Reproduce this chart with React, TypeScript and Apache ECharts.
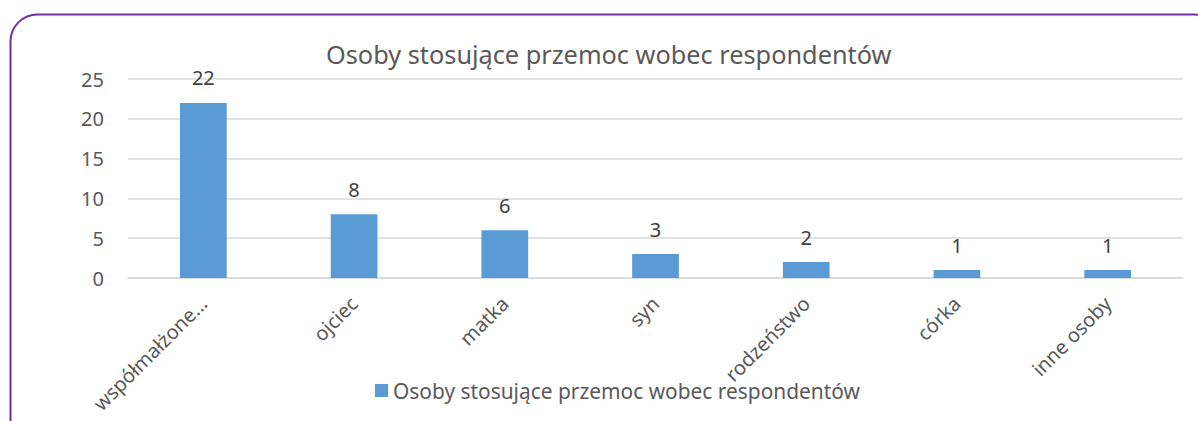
import React, { useEffect, useRef } from "react";
import * as echarts from "echarts";

const categories = ["współmałżone…", "ojciec", "matka", "syn", "rodzeństwo", "córka", "inne osoby"];
const values = [22, 8, 6, 3, 2, 1, 1];
const seriesName = "Osoby stosujące przemoc wobec respondentów";
const titleText = "Osoby stosujące przemoc wobec respondentów";

const FONT = "'Noto Sans', 'Open Sans', sans-serif";

export default function App() {
  const ref = useRef<HTMLDivElement>(null);
  useEffect(() => {
    if (!ref.current) return;
    const chart = echarts.init(ref.current, undefined, { renderer: "svg" });
    chart.setOption({
      animation: false,
      backgroundColor: "#ffffff",
      title: {
        text: titleText,
        left: 321,
        top: 36,
        textStyle: { fontFamily: FONT, fontSize: 25.3, fontWeight: "normal", color: "#595959" },
      },
      legend: {
        bottom: 15,
        left: 370,
        itemWidth: 13,
        itemHeight: 13,
        icon: "rect",
        itemGap: 6,
        textStyle: { fontFamily: FONT, fontSize: 20.9, color: "#595959" },
        data: [seriesName],
      },
      grid: { left: 128, right: 15, top: 79, bottom: 143, containLabel: false },
      xAxis: {
        type: "category",
        data: categories,
        axisLine: { lineStyle: { color: "#d9d9d9", width: 1.5 } },
        axisTick: { show: false },
        axisLabel: {
          rotate: 45,
          interval: 0,
          margin: 22,
          fontFamily: FONT,
          fontSize: 20,
          color: "#595959",
        },
      },
      yAxis: {
        type: "value",
        min: 0,
        max: 25,
        interval: 5,
        axisLine: { show: false },
        axisTick: { show: false },
        splitLine: { lineStyle: { color: "#d9d9d9", width: 1.5 } },
        axisLabel: { fontFamily: FONT, fontSize: 20, color: "#595959", margin: 24 },
      },
      series: [
        {
          name: seriesName,
          type: "bar",
          data: values,
          barWidth: "31%",
          itemStyle: { color: "#5b9bd5" },
          label: {
            show: true,
            position: "top",
            distance: 15,
            fontFamily: FONT,
            fontSize: 20,
            color: "#404040",
          },
        },
      ],
      graphic: [
        {
          type: "rect",
          shape: { x: 10.5, y: 14.5, width: 1210, height: 500, r: 27 },
          style: { fill: "none", stroke: "#7030a0", lineWidth: 2 },
          silent: true,
          z: 100,
        },
      ],
    });
    return () => chart.dispose();
  }, []);
  return (
    <div style={{ position: "fixed", left: 0, top: 0, width: 1198, height: 421 }}>
      <div ref={ref} style={{ width: 1198, height: 421 }} />
    </div>
  );
}
